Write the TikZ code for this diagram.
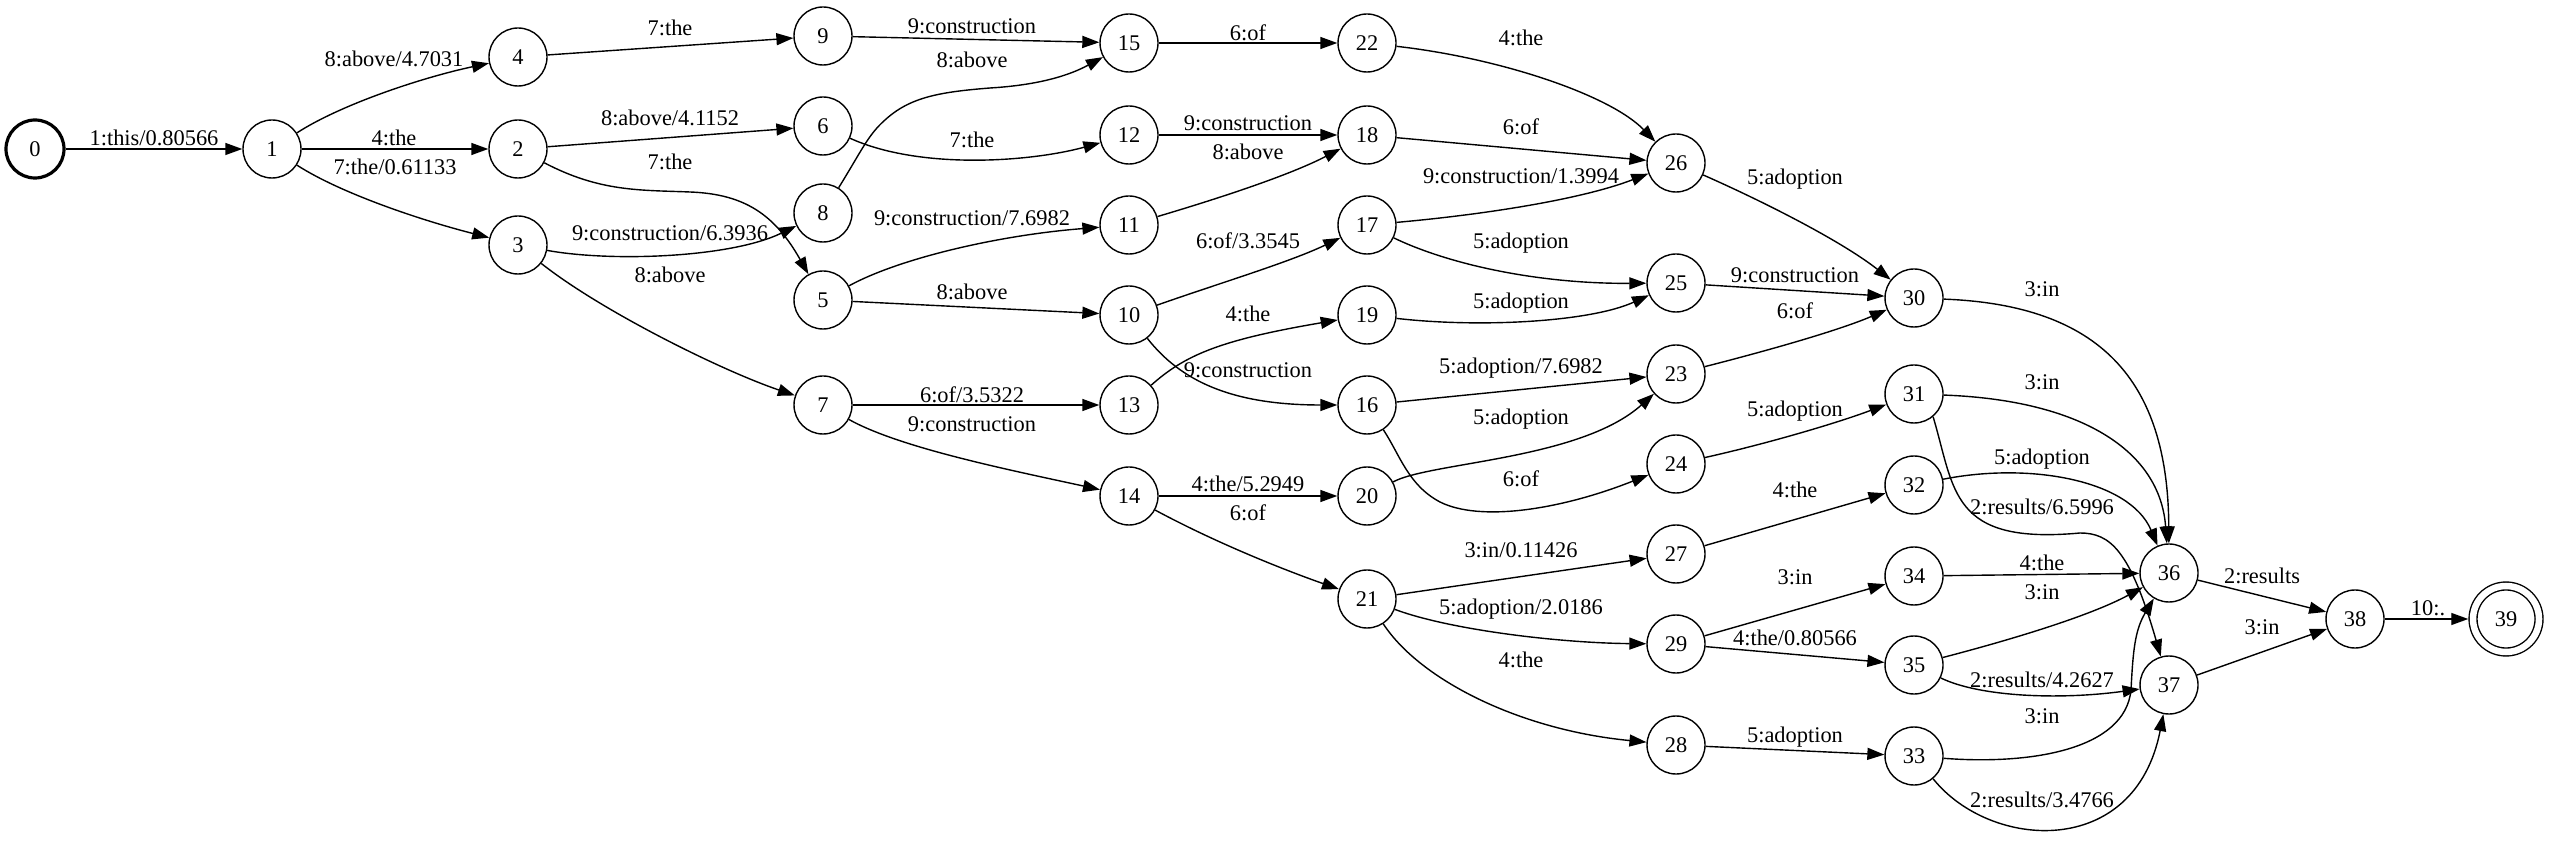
\documentclass[tikz,border=0pt]{standalone}
\usepackage{fontspec}
\setmainfont{Liberation Serif}
\usetikzlibrary{arrows.meta}

\begin{document}
\begin{tikzpicture}[x=1pt,y=1pt,
  state/.style={circle,draw,line width=1.4pt,minimum size=58pt,inner sep=0pt,
    font=\fontsize{22.4}{25}\selectfont,text height=15.2pt,text depth=0pt},
  lbl/.style={inner sep=0pt,font=\fontsize{22.4}{25}\selectfont,text height=15.2pt,text depth=0pt},
  arr/.style={line width=1.4pt,-{Triangle[length=17pt,width=12pt]}}]
\useasboundingbox (0,0) rectangle (2550,841);

\node[state,line width=3.2pt] (s0) at (35,692) {0};
\node[state] (s1) at (272,692) {1};
\node[state] (s4) at (518,784) {4};
\node[state] (s2) at (518,692) {2};
\node[state] (s3) at (518,596) {3};
\node[state] (s9) at (823,805) {9};
\node[state] (s6) at (823,715) {6};
\node[state] (s8) at (823,628) {8};
\node[state] (s5) at (823,541) {5};
\node[state] (s7) at (823,436) {7};
\node[state] (s15) at (1129,798) {15};
\node[state] (s12) at (1129,706) {12};
\node[state] (s11) at (1129,616) {11};
\node[state] (s10) at (1129,526) {10};
\node[state] (s13) at (1129,436) {13};
\node[state] (s14) at (1129,345) {14};
\node[state] (s22) at (1367,798) {22};
\node[state] (s18) at (1367,706) {18};
\node[state] (s17) at (1367,616) {17};
\node[state] (s19) at (1367,526) {19};
\node[state] (s16) at (1367,436) {16};
\node[state] (s20) at (1367,345) {20};
\node[state] (s21) at (1367,242) {21};
\node[state] (s26) at (1676,678) {26};
\node[state] (s25) at (1676,558) {25};
\node[state] (s23) at (1676,467) {23};
\node[state] (s24) at (1676,377) {24};
\node[state] (s27) at (1676,287) {27};
\node[state] (s29) at (1676,197) {29};
\node[state] (s28) at (1676,96) {28};
\node[state] (s30) at (1914,543) {30};
\node[state] (s31) at (1914,447) {31};
\node[state] (s32) at (1914,356) {32};
\node[state] (s34) at (1914,265) {34};
\node[state] (s35) at (1914,176) {35};
\node[state] (s33) at (1914,85) {33};
\node[state] (s36) at (2169,268) {36};
\node[state] (s37) at (2169,156) {37};
\node[state] (s38) at (2355,222) {38};
\node[state,double,double distance=6.5pt,minimum size=66pt,outer sep=4.75pt] (s39) at (2506,222) {39};

\draw[arr] (s0) -- (s1);
\draw[arr] (s1) .. controls (340,736) and (420,763) .. (s4);
\draw[arr] (s1) -- (s2);
\draw[arr] (s1) .. controls (340,648) and (420,621) .. (s3);
\draw[arr] (s4) -- (s9);
\draw[arr] (s2) -- (s6);
\draw[arr] (s2) .. controls (600,649) and (640,651) .. (690,649) .. controls (745,647) and (775,626) .. (s5);
\draw[arr] (s3) .. controls (610,579) and (730,583) .. (s8);
\draw[arr] (s3) .. controls (600,531) and (720,471) .. (s7);
\draw[arr] (s9) -- (s15);
\draw[arr] (s8) .. controls (862,691) and (868,706) .. (885,721) .. controls (910,744) and (940,749) .. (990,753) .. controls (1040,756) and (1070,766) .. (s15);
\draw[arr] (s6) .. controls (920,671) and (1030,679) .. (s12);
\draw[arr] (s5) .. controls (900,583) and (1000,606) .. (s11);
\draw[arr] (s5) -- (s10);
\draw[arr] (s7) -- (s13);
\draw[arr] (s7) .. controls (900,393) and (1010,371) .. (s14);
\draw[arr] (s15) -- (s22);
\draw[arr] (s12) -- (s18);
\draw[arr] (s11) .. controls (1220,643) and (1290,666) .. (s18);
\draw[arr] (s10) .. controls (1220,558) and (1290,579) .. (s17);
\draw[arr] (s13) .. controls (1185,486) and (1220,501) .. (s19);
\draw[arr] (s10) .. controls (1180,461) and (1230,436) .. (s16);
\draw[arr] (s14) -- (s20);
\draw[arr] (s14) .. controls (1220,296) and (1290,269) .. (s21);
\draw[arr] (s22) .. controls (1500,783) and (1610,746) .. (s26);
\draw[arr] (s18) -- (s26);
\draw[arr] (s17) .. controls (1480,626) and (1580,641) .. (s26);
\draw[arr] (s17) .. controls (1450,576) and (1540,557) .. (s25);
\draw[arr] (s19) .. controls (1480,513) and (1590,519) .. (s25);
\draw[arr] (s16) -- (s23);
\draw[arr] (s20) .. controls (1430,379) and (1580,381) .. (s23);
\draw[arr] (s16) .. controls (1400,386) and (1408,356) .. (1440,339) .. controls (1480,319) and (1560,331) .. (s24);
\draw[arr] (s21) -- (s27);
\draw[arr] (s21) .. controls (1450,211) and (1560,198) .. (s29);
\draw[arr] (s21) .. controls (1420,161) and (1520,111) .. (s28);
\draw[arr] (s26) .. controls (1760,641) and (1840,601) .. (s30);
\draw[arr] (s25) -- (s30);
\draw[arr] (s23) .. controls (1770,491) and (1840,511) .. (s30);
\draw[arr] (s24) .. controls (1770,398) and (1840,419) .. (s31);
\draw[arr] (s27) -- (s32);
\draw[arr] (s29) -- (s34);
\draw[arr] (s29) -- (s35);
\draw[arr] (s28) -- (s33);
\draw[arr] (s30) .. controls (2100,536) and (2168,461) .. (s36);
\draw[arr] (s31) .. controls (2080,441) and (2160,391) .. (s36);
\draw[arr] (s32) .. controls (2030,379) and (2130,361) .. (s36);
\draw[arr] (s31.-50) .. controls (1955,351) and (1950,296) .. (2080,308) .. controls (2110,308) and (2130,291) .. (s37);
\draw[arr] (s34) -- (s36);
\draw[arr] (s35) .. controls (2010,201) and (2090,225) .. (s36);
\draw[arr] (s35) .. controls (1980,144) and (2060,141) .. (s37);
\draw[arr] (s33) .. controls (2030,76) and (2125,91) .. (2131,151) .. controls (2133,191) and (2135,211) .. (s36);
\draw[arr] (s33.-50) .. controls (1990,-9) and (2135,-19) .. (s37);
\draw[arr] (s36) -- (s38);
\draw[arr] (s37) -- (s38);
\draw[arr] (s38) -- (s39);

\node[lbl] (l0-1) at (154,703) {1:this/0.80566};
\node[lbl] (l1-4) at (394,782) {8:above/4.7031};
\node[lbl] (l1-2) at (394,703) {4:the};
\node[lbl] (l1-3) at (395,674) {7:the/0.61133};
\node[lbl] (l4-9) at (670,813) {7:the};
\node[lbl] (l2-6) at (670,723) {8:above/4.1152};
\node[lbl] (l2-5) at (670,679) {7:the};
\node[lbl] (l3-8) at (670,608) {9:construction/6.3936};
\node[lbl] (l3-7) at (670,566) {8:above};
\node[lbl] (l9-15) at (972,815) {9:construction};
\node[lbl] (l8-15) at (972,781) {8:above};
\node[lbl] (l6-12) at (972,701) {7:the};
\node[lbl] (l5-11) at (972,623) {9:construction/7.6982};
\node[lbl] (l5-10) at (972,549) {8:above};
\node[lbl] (l7-13) at (972,446) {6:of/3.5322};
\node[lbl] (l7-14) at (972,417) {9:construction};
\node[lbl] (l15-22) at (1248,808) {6:of};
\node[lbl] (l12-18) at (1248,718) {9:construction};
\node[lbl] (l11-18) at (1248,689) {8:above};
\node[lbl] (l10-17) at (1248,600) {6:of/3.3545};
\node[lbl] (l13-19) at (1248,527) {4:the};
\node[lbl] (l10-16) at (1248,471) {9:construction};
\node[lbl] (l14-20) at (1248,357) {4:the/5.2949};
\node[lbl] (l14-21) at (1248,328) {6:of};
\node[lbl] (l22-26) at (1521,803) {4:the};
\node[lbl] (l18-26) at (1521,714) {6:of};
\node[lbl] (l17-26) at (1521,665) {9:construction/1.3994};
\node[lbl] (l17-25) at (1521,600) {5:adoption};
\node[lbl] (l19-25) at (1521,540) {5:adoption};
\node[lbl] (l16-23) at (1521,475) {5:adoption/7.6982};
\node[lbl] (l20-23) at (1521,424) {5:adoption};
\node[lbl] (l16-24) at (1521,362) {6:of};
\node[lbl] (l21-27) at (1521,291) {3:in/0.11426};
\node[lbl] (l21-29) at (1521,234) {5:adoption/2.0186};
\node[lbl] (l21-28) at (1521,181) {4:the};
\node[lbl] (l26-30) at (1795,664) {5:adoption};
\node[lbl] (l25-30) at (1795,566) {9:construction};
\node[lbl] (l23-30) at (1795,530) {6:of};
\node[lbl] (l24-31) at (1795,432) {5:adoption};
\node[lbl] (l27-32) at (1795,351) {4:the};
\node[lbl] (l29-34) at (1795,264) {3:in};
\node[lbl] (l29-35) at (1795,203) {4:the/0.80566};
\node[lbl] (l28-33) at (1795,106) {5:adoption};
\node[lbl] (l30-36) at (2042,552) {3:in};
\node[lbl] (l31-36) at (2042,459) {3:in};
\node[lbl] (l32-36) at (2042,384) {5:adoption};
\node[lbl] (l31-37) at (2042,334) {2:results/6.5996};
\node[lbl] (l34-36) at (2042,278) {4:the};
\node[lbl] (l35-36) at (2042,249) {3:in};
\node[lbl] (l35-37) at (2042,161) {2:results/4.2627};
\node[lbl] (l33-36) at (2042,125) {3:in};
\node[lbl] (l33-37) at (2042,41) {2:results/3.4766};
\node[lbl] (l36-38) at (2262,265) {2:results};
\node[lbl] (l37-38) at (2262,214) {3:in};
\node[lbl] (l38-39) at (2428,233) {10:.};

\end{tikzpicture}
\end{document}
